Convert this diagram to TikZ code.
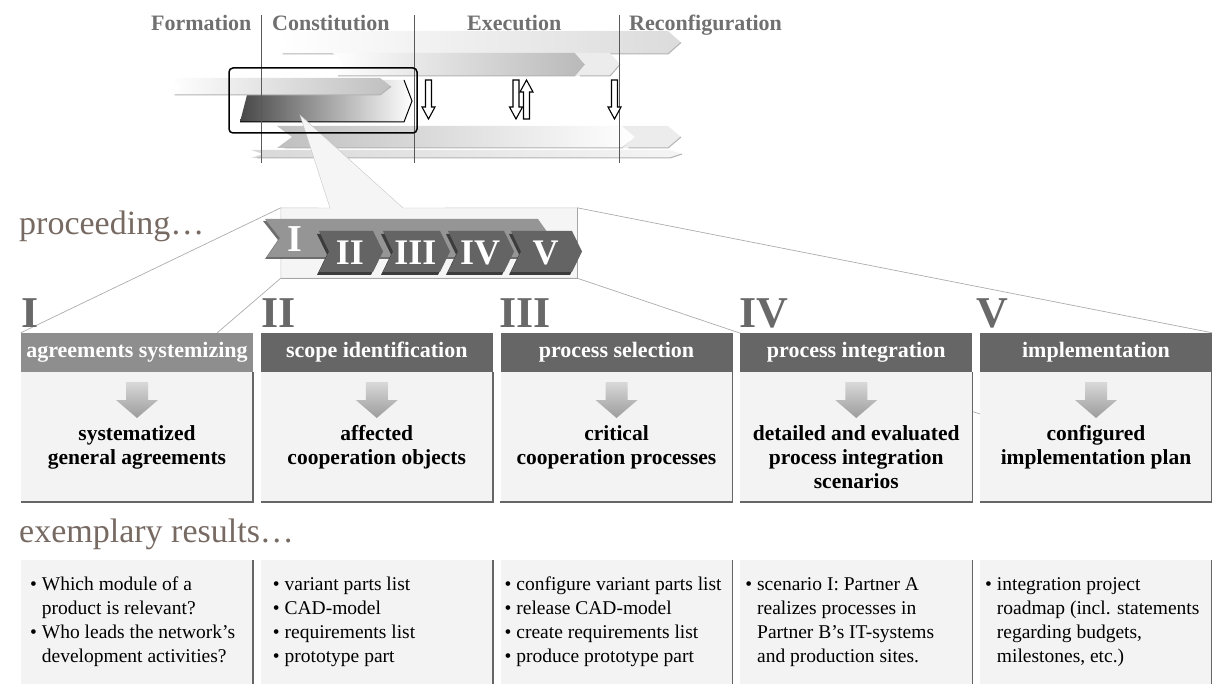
\documentclass[tikz,border=0pt]{standalone}
\usepackage{fontspec}
\setmainfont{Liberation Serif}
\usetikzlibrary{positioning,backgrounds}
\definecolor{colphase}{HTML}{707070}
\definecolor{colroman}{HTML}{696969}
\definecolor{colbrown}{HTML}{776A63}
\definecolor{colbar}{HTML}{666666}
\definecolor{colbarI}{HTML}{8E8E8E}
\definecolor{colpanel}{HTML}{F3F3F3}
\definecolor{coledge}{HTML}{666666}
\definecolor{colstep}{HTML}{646464}
\definecolor{colstepI}{HTML}{959595}
\definecolor{colshade}{HTML}{3C3C3C}
\definecolor{colshadeI}{HTML}{6E6E6E}
\definecolor{colcallout}{HTML}{F5F5F5}
\newcommand{\chevron}[6]{%
  \path[#6] ({#1},{#3}) -- ({#2},{#3}) -- ({#2+#5},{(#3+#4)/2}) -- ({#2},{#4}) -- ({#1},{#4}) -- ({#1+#5},{(#3+#4)/2}) -- cycle;}
\newcommand{\ribbon}[6]{%
  \chevron{#1}{#2}{#3}{#4}{#5}{#6}
  \draw[gray!60, line width=1pt] ({#1+#5/2},{#4}) -- ({#2},{#4}) -- ({#2+#5},{(#3+#4)/2});}
\newcommand{\hollowdown}[3]{%
  \draw[line width=1.1pt, fill=white] ({#1-3},{#2}) -- ({#1+3},{#2}) -- ({#1+3},{#3-12}) -- ({#1+6.5},{#3-12}) -- ({#1},{#3}) -- ({#1-6.5},{#3-12}) -- ({#1-3},{#3-12}) -- cycle;}
\newcommand{\hollowup}[3]{%
  \draw[line width=1.1pt, fill=white] ({#1},{#2}) -- ({#1+6.5},{#2+12}) -- ({#1+3},{#2+12}) -- ({#1+3},{#3}) -- ({#1-3},{#3}) -- ({#1-3},{#2+12}) -- ({#1-6.5},{#2+12}) -- cycle;}
\newcommand{\fatdown}[1]{%
  \path[top color=gray!30, bottom color=gray!78] ({#1-11},382) -- ({#1+11},382) -- ({#1+11},400) -- ({#1+21},400) -- ({#1},418) -- ({#1-21},400) -- ({#1-11},400) -- cycle;}
\newcommand{\restline}{\hphantom{•\ }}

\begin{document}
\begin{tikzpicture}[x=1pt, y=-1pt,
    every node/.style={inner sep=0pt},
    phase/.style={font=\fontsize{22}{26}\selectfont\bfseries, text=colphase, anchor=base west},
    roman/.style={font=\fontsize{44}{48}\selectfont\bfseries, text=colroman, anchor=base west},
    numeral/.style={font=\fontsize{36}{40}\selectfont\bfseries, text=white},
    lead/.style={font=\fontsize{34}{38}\selectfont, text=colbrown, anchor=base west},
    titlebar/.style={minimum width=232pt, minimum height=39pt, font=\fontsize{22}{26}\selectfont\bfseries, text=white},
    panel/.style={fill=colpanel, minimum width=232pt},
    outcome/.style={font=\fontsize{21.5}{24}\selectfont\bfseries, align=center, anchor=north},
    result/.style={font=\fontsize{19.5}{24}\selectfont, align=left, anchor=north west},
    zoomline/.style={gray!65, line width=0.7pt}]
  \useasboundingbox (0,0) rectangle (1212,684);

  \ribbon{276}{668}{31}{54}{13}{left color=white, right color=gray!28}
  \ribbon{333}{575}{53}{76}{10}{left color=white, right color=gray!55}
  \ribbon{575}{610}{53}{76}{10}{fill=gray!15}
  \path[left color=black!72, right color=white] (240,122) -- (247,95) -- (249,80) -- (404,80) -- (412,101) -- (404,122) -- cycle;
  \draw[line width=1pt] (240,122) -- (404,122) -- (412,101) -- (404,80);
  \ribbon{169}{380}{78}{95}{11}{left color=white, right color=gray!50}
  \ribbon{277}{622}{126}{148}{15}{left color=gray!50, right color=white}
  \ribbon{622}{668}{126}{148}{13}{fill=gray!15}
  \ribbon{251}{670}{150}{158}{12}{left color=gray!30, right color=gray!8}
  \foreach \vx in {261,414,619} \draw[black!65] (\vx,15) -- (\vx,163);

  \node[phase] (formation) at (151,31) {Formation};
  \node[phase] (constitution) at (272,31) {Constitution};
  \node[phase] (execution) at (467,31) {Execution};
  \node[phase] (reconfig) at (629,31) {Reconfiguration};

  \coordinate (tip) at (300,115);
  \node[minimum width=296pt, minimum height=70pt] (zoom) at (429,243) {};
  \draw[gray!45, fill=colcallout] (zoom.north west) -- (330,208) -- (tip) -- (403,208) -- (zoom.north east) -- (zoom.south east) -- (zoom.south west) -- cycle;
  \draw[gray!70] (zoom.north east) -- (zoom.south east) -- (zoom.south west);
  \node[draw, line width=1.5pt, rounded corners=4pt, minimum width=188pt, minimum height=65pt] (focus) at (323,100.5) {};

  \foreach \ax in {428.5,516,614.5} \hollowdown{\ax}{80}{119};
  \hollowup{526.5}{80}{119}

  \path[fill=colshadeI] (263,221) -- (536,221) -- (548,238) -- (536,259) -- (265,259) -- (278,240) -- cycle;
  \path[fill=colstepI] (265,219) -- (538,219) -- (550,236) -- (538,257) -- (267,257) -- (280,238) -- cycle;
  \node[numeral, font=\fontsize{38}{40}\selectfont\bfseries] (stepI) at (295,239) {I};
  \foreach \n/\xl/\xt in {II/319/383, III/383/450, IV/448/514, V/511/582} {
    \chevron{\xl-2}{\xt-12}{234}{275}{10}{fill=colshade}
    \chevron{\xl}{\xt-10}{231}{272}{10}{fill=colstep}
    \node[numeral] (step\n) at ({(\xl+\xt)/2-1},252.5) {\n};
  }

  \node[lead] (proceeding) at (19,235) {proceeding…};
  \foreach \r/\rx in {I/21, II/261, III/499, IV/739, V/976}
    \node[roman] (head\r) at (\rx,327) {\r};

  \foreach \i/\c/\t in {1/colbarI/agreements systemizing, 2/colbar/scope identification, 3/colbar/process selection, 4/colbar/process integration, 5/colbar/implementation} {
    \pgfmathsetmacro{\cx}{137+239.75*(\i-1)}
    \node[titlebar, fill=\c] (bar\i) at (\cx,352.5) {\t};
    \node[panel, minimum height=130pt] (panel\i) at (\cx,437) {};
    \draw[coledge, line width=1.5pt] (panel\i.north east) -- (panel\i.south east) -- (panel\i.south west);
    \fatdown{\cx}
    \node[panel, minimum height=124pt] (res\i) at (\cx,622) {};
    \draw[coledge, line width=1.5pt] (res\i.north east) -- (res\i.south east);
  }
  \foreach \i/\t in {1/{systematized\\general agreements}, 2/{affected\\cooperation objects}, 3/{critical\\cooperation processes}, 4/{detailed and evaluated\\process integration\\scenarios}, 5/{configured\\implementation plan}}
    \node[outcome] (out\i) at ({137+239.75*(\i-1)},425) {\t};

  \node[lead] (exemplary) at (19,542) {exemplary results…};
  \foreach \i/\px/\t in {
    1/9/{• Which module of a\\\restline product is relevant?\\• Who leads the network’s\\\restline development activities?},
    2/12/{• variant parts list\\• CAD-model\\• requirements list\\• prototype part},
    3/4/{• configure variant parts list\\• release CAD-model\\• create requirements list\\• produce prototype part},
    4/5/{• scenario I: Partner A\\\restline realizes processes in\\\restline Partner B’s IT-systems\\\restline and production sites.},
    5/5/{• integration project\\\restline roadmap (incl. statements\\\restline regarding budgets,\\\restline milestones, etc.)}}
    \node[result] (txt\i) at ({21+239.75*(\i-1)+\px},577) {\t};

  \coordinate (hitI) at (217,333);
  \coordinate (hitIV) at (1100,454.5);
  \begin{scope}[on background layer]
    \draw[zoomline] (zoom.north west) -- (bar1.north west);
    \draw[zoomline] (zoom.south west) -- (hitI);
    \draw[zoomline] (zoom.north east) -- (bar5.north east);
    \draw[zoomline] (zoom.south east) -- (hitIV);
  \end{scope}
\end{tikzpicture}
\end{document}
